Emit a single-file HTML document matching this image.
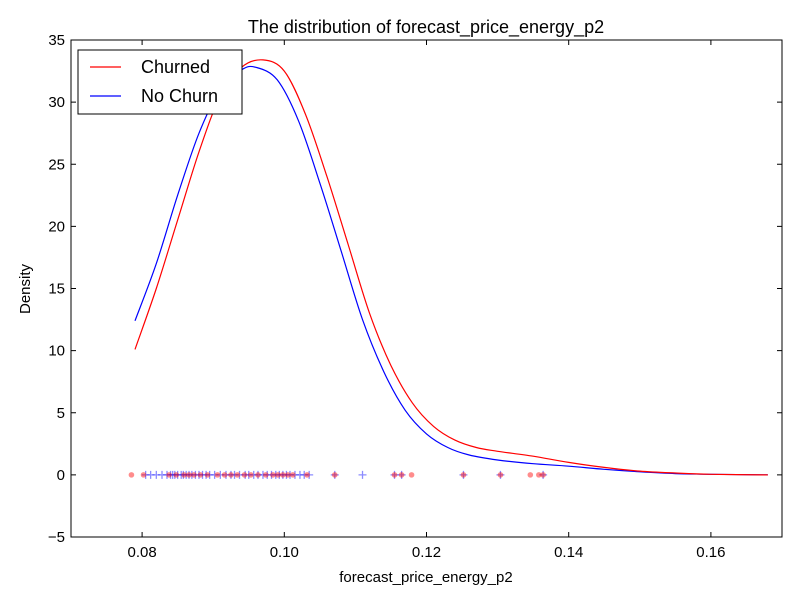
<!DOCTYPE html>
<html><head><meta charset="utf-8"><style>
body{margin:0;background:#fff;font-family:"Liberation Sans",sans-serif}
</style></head><body>
<svg id="c" width="800" height="600" xmlns="http://www.w3.org/2000/svg" font-family="Liberation Sans, sans-serif"></svg>
<script>
const churnX=[0.079,0.082,0.085,0.088,0.091,0.094,0.097,0.100,0.103,0.106,0.109,0.112,0.115,0.118,0.121,0.124,0.127,0.130,0.135,0.140,0.145,0.150,0.155,0.160,0.168];
const churnY=[10.1,15,20.5,26,30.5,32.8,33.4,32.5,29,24,18.5,13,8.8,5.8,3.9,2.8,2.2,1.9,1.5,1.0,0.6,0.3,0.15,0.05,0];
const noChurnX=[0.079,0.082,0.085,0.088,0.091,0.094,0.096,0.099,0.102,0.105,0.108,0.111,0.114,0.117,0.120,0.123,0.126,0.130,0.135,0.140,0.145,0.150,0.155,0.160,0.168];
const noChurnY=[12.4,17,22.5,27.5,31,32.6,32.8,31.8,28.5,23.5,18,12.5,8.3,5.2,3.3,2.2,1.6,1.2,0.9,0.7,0.45,0.25,0.1,0.05,0];
const churnRug=[0.0785,0.0802,0.0838,0.0848,0.0859,0.0866,0.0873,0.0882,0.0892,0.0906,0.0916,0.0925,0.0934,0.0944,0.0953,0.0963,0.0974,0.0984,0.0991,0.0998,0.1005,0.1012,0.1032,0.1071,0.1155,0.1165,0.1179,0.1252,0.1304,0.1346,0.1358,0.1364];
const noChurnRug=[0.0805,0.0812,0.082,0.0828,0.0835,0.084,0.0843,0.0846,0.085,0.0855,0.0858,0.0862,0.0866,0.087,0.0875,0.088,0.0885,0.089,0.0895,0.0902,0.091,0.0918,0.0925,0.093,0.0937,0.0945,0.095,0.0957,0.0963,0.097,0.0976,0.0982,0.0988,0.0993,0.0998,0.1003,0.1008,0.1015,0.1022,0.1028,0.1035,0.1071,0.111,0.1155,0.1165,0.1252,0.1304,0.1364];
const xTicks=[0.08,0.10,0.12,0.14,0.16];
const yTicks=[-5,0,5,10,15,20,25,30,35];
const L=71,R=782,T=40,B=537,x0=0.07,x1=0.17,y0=-5,y1=35;
const sx=v=>L+(v-x0)/(x1-x0)*(R-L), sy=v=>B-(v-y0)/(y1-y0)*(B-T);
const svg=document.getElementById('c'),NS='http://www.w3.org/2000/svg';
function mk(t,a,p){const e=document.createElementNS(NS,t);for(const k in a)e.setAttribute(k,a[k]);(p||svg).appendChild(e);return e;}
noChurnRug.forEach(v=>{const g=mk('path',{d:`M${sx(v)-4} ${sy(0)}h8M${sx(v)} ${sy(0)-4}v8`,stroke:'#0000ff','stroke-opacity':0.45,'stroke-width':1.3});

});
churnRug.forEach(v=>{const g=mk('circle',{cx:sx(v),cy:sy(0),r:2.8,fill:'#ff0000','fill-opacity':0.45});

});
function line(xs,ys,col,name){
const P=xs.map((v,i)=>[sx(v),sy(ys[i])]);
let d='M'+P[0][0].toFixed(1)+' '+P[0][1].toFixed(1);
for(let i=0;i<P.length-1;i++){const p0=P[Math.max(i-1,0)],p1=P[i],p2=P[i+1],p3=P[Math.min(i+2,P.length-1)];
const c1=[p1[0]+(p2[0]-p0[0])/6,p1[1]+(p2[1]-p0[1])/6],c2=[p2[0]-(p3[0]-p1[0])/6,p2[1]-(p3[1]-p1[1])/6];
d+=`C${c1[0].toFixed(1)} ${c1[1].toFixed(1)} ${c2[0].toFixed(1)} ${c2[1].toFixed(1)} ${p2[0].toFixed(1)} ${p2[1].toFixed(1)}`;}
const p=mk('path',{d:d,fill:'none',stroke:col,'stroke-width':1.2,'stroke-linejoin':'round'});

}
line(noChurnX,noChurnY,'#0000ff','no-churn-density-line');
line(churnX,churnY,'#ff0000','churned-density-line');
const f=mk('rect',{x:L,y:T,width:R-L,height:B-T,fill:'none',stroke:'#000','stroke-width':1});

xTicks.forEach(v=>{const x=sx(v);mk('path',{d:`M${x} ${B}v-5M${x} ${T}v5`,stroke:'#000'});
const t=mk('text',{x:x,y:B+20,'text-anchor':'middle','font-size':15});t.textContent=v.toFixed(2);
});
yTicks.forEach(v=>{const y=sy(v);mk('path',{d:`M${L} ${y}h5M${R} ${y}h-5`,stroke:'#000'});
const t=mk('text',{x:L-6,y:y+5,'text-anchor':'end','font-size':15});t.textContent=v<0?'\u2212'+(-v):v;
});
</script>
<svg style="position:absolute;left:0;top:0" width="800" height="600" xmlns="http://www.w3.org/2000/svg" font-family="Liberation Sans, sans-serif">
<text x="426" y="33" text-anchor="middle" font-size="18">The distribution of forecast_price_energy_p2</text>
<text x="426" y="582" text-anchor="middle" font-size="15">forecast_price_energy_p2</text>
<text x="30" y="289" text-anchor="middle" font-size="15" transform="rotate(-90 30 289)">Density</text>
<g>
<rect x="78" y="50" width="164" height="64" fill="#fff" stroke="#000"/>
<line x1="90" y1="67" x2="121" y2="67" stroke="#ff0000" stroke-width="1.2"/>
<text x="141" y="73" font-size="18">Churned</text>
<line x1="90" y1="96" x2="121" y2="96" stroke="#0000ff" stroke-width="1.2"/>
<text x="141" y="102" font-size="18">No Churn</text>
</g>
</svg>
</body></html>
